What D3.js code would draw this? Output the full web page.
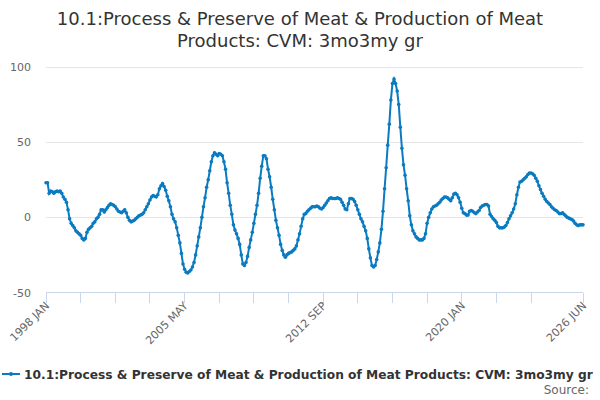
<!DOCTYPE html>
<html><head><meta charset="utf-8">
<script src="https://cdn.jsdelivr.net/npm/d3@7"></script>
<style>
html,body{margin:0;padding:0;background:#fff;}
svg{display:block;font-family:"DejaVu Sans",sans-serif;}
</style></head>
<body><svg id="chart" width="600" height="400"></svg>
<script>
const titleLines = ["10.1:Process & Preserve of Meat & Production of Meat", "Products: CVM: 3mo3my gr"];
const seriesName = "10.1:Process & Preserve of Meat & Production of Meat Products: CVM: 3mo3my gr";
const startMonth = "1998-01";
const values = [
 23, 23, 16, 17.5, 17, 16, 17, 17.5, 17, 17.5,
 16, 13.5, 12, 10, 5, -1, -4, -5.5, -7, -9,
 -10, -11, -12, -14, -15, -14, -10, -8, -7, -6,
 -4, -3, -1, 0, 2, 5, 5, 3.5, 5, 6.5,
 8, 9, 8.5, 8, 7, 5.5, 4, 3.5, 3, 4,
 5, 3, 0, -2, -3, -2.5, -2, -1, 0, 1,
 1.5, 2, 3, 5, 7, 9, 11.5, 13.5, 14.5, 14,
 13.5, 15, 19, 21, 22.5, 20.5, 18, 14, 11, 7,
 2, -1, -3, -7, -12, -17, -24, -31, -34.5, -36.5,
 -37, -36, -35, -33, -30, -25, -19, -13, -7, 0,
 7, 13, 20, 25, 31, 37, 41, 43, 42, 41,
 42.5, 42, 41, 37, 32, 23, 16, 8, 2, -5,
 -8.5, -11, -14, -18, -25, -31, -32, -30, -26, -20,
 -15, -10, -4, 2, 8, 16, 26, 34, 41, 41,
 39, 32, 27, 20, 12, 5, -2, -7, -12, -18,
 -22, -25, -26.5, -25, -24, -23.5, -23, -22, -21, -19,
 -15, -11, -6, -1, 2, 2.5, 4, 5, 6, 7,
 7, 7, 7.5, 7, 6, 5.5, 6.5, 8, 9.5, 11,
 12.5, 13, 12.5, 12.5, 12.5, 13, 12.5, 12, 10, 8,
 5.5, 5, 9, 12.5, 12.5, 12, 10.5, 8, 5, 2,
 -1, -3, -6, -9, -14, -21, -27, -32, -33, -32,
 -28, -23, -17, -8, 4, 19, 33, 48, 62, 78,
 89, 92, 89, 84, 75, 60, 46, 35, 28, 19,
 11, 1, -5, -9, -11, -13, -14, -15, -15, -15,
 -14, -11, -4, 0, 3, 5.5, 7, 7.5, 8, 9,
 10, 11.5, 12.5, 13.5, 13.5, 13, 12, 11, 13, 15.5,
 16, 15, 13, 10, 6, 3, 2.5, 1.5, 1.5, 4,
 4.5, 4, 3, 2.5, 3.5, 4.5, 6.5, 7.5, 8, 8.5,
 8.5, 7.5, 2, 0.5, -1, -2, -3.5, -6, -7, -7,
 -7, -6.5, -5.5, -3.5, -1, 1, 3, 5.5, 9, 15,
 20, 23.5, 24, 25, 26, 27, 28.5, 29.5, 29.5, 29,
 28, 26, 24, 21, 18.5, 16, 14, 12, 10.5, 9.5,
 8.5, 7, 6, 5, 4.5, 3.5, 2.5, 2.5, 3, 2,
 1, 0, -0.5, -1, -1.5, -2.5, -4, -5, -5.5, -5, -5, -5
];
const yTicks = [-50, 0, 50, 100];
const xTickMonths = [0, 22, 44, 66, 88, 110, 132, 154, 176, 198, 220, 242, 264, 286, 308, 341];
const xLabelMonths = [0, 88, 176, 264, 341];
const xLabels = ["1998 JAN", "2005 MAY", "2012 SEP", "2020 JAN", "2026 JUN"];
const sourceText = "Source:";

const color = "#0a7bc1";
const svg = d3.select("#chart");
const L = 46, R = 583, T = 67, B = 292.5;
const x = d3.scaleLinear().domain([0, values.length - 1]).range([L, R]);
const y = d3.scaleLinear().domain([-50, 100]).range([B, T]);

// title
svg.append("text").attr("x", 300).attr("y", 25).attr("text-anchor", "middle")
  .attr("font-size", 18).attr("fill", "#333")
  .selectAll("tspan").data(titleLines).join("tspan")
  .attr("x", 300).attr("dy", (d, i) => i ? 22 : 0).text(d => d);

// grid
svg.append("g").selectAll("line").data(yTicks.filter(t => t !== -50)).join("line")
  .attr("x1", L).attr("x2", R).attr("y1", d => y(d)).attr("y2", d => y(d))
  .attr("stroke", "#e6e6e6").attr("stroke-width", 1).attr("shape-rendering", "crispEdges");

// y labels
svg.append("g").selectAll("text").data(yTicks).join("text")
  .attr("x", 31).attr("y", d => y(d) + 4).attr("text-anchor", "end")
  .attr("font-size", 11).attr("fill", "#666").text(d => d);

// x axis
const xa = svg.append("g");
xa.append("line").attr("x1", L).attr("x2", R).attr("y1", B).attr("y2", B)
  .attr("stroke", "#ccd6eb").attr("stroke-width", 1);
xa.selectAll("line.tick").data(xTickMonths).join("line").attr("class", "tick")
  .attr("x1", d => x(d)).attr("x2", d => x(d)).attr("y1", B).attr("y2", B + 10)
  .attr("stroke", "#ccd6eb").attr("stroke-width", 1).attr("shape-rendering", "crispEdges");
xa.selectAll("text").data(xLabelMonths).join("text")
  .attr("transform", d => `translate(${x(d) + 4},${B + 14}) rotate(-45)`)
  .attr("text-anchor", "end").attr("font-size", 11).attr("fill", "#666")
  .text((d, i) => xLabels[i]);

// line
const line = d3.line().x((d, i) => x(i)).y(d => y(d));
svg.append("path").datum(values).attr("d", line).attr("fill", "none")
  .attr("stroke", color).attr("stroke-width", 2);
svg.append("g").selectAll("circle").data(values).join("circle")
  .attr("cx", (d, i) => x(i)).attr("cy", d => y(d)).attr("r", 1.8).attr("fill", color);

// legend
const lg = svg.append("g");
lg.append("line").attr("x1", 2).attr("x2", 20).attr("y1", 374).attr("y2", 374)
  .attr("stroke", color).attr("stroke-width", 2);
lg.append("circle").attr("cx", 11).attr("cy", 374).attr("r", 2).attr("fill", color);
const lt = lg.append("text").attr("x", 24).attr("y", 378.5).attr("font-size", 13).attr("font-weight", "bold")
  .attr("fill", "#333").text(seriesName);
const w = lt.node().getComputedTextLength();
const target = 593 - 24;
if (w > target) lt.attr("font-size", 13 * target / w);

svg.append("text").attr("x", 589).attr("y", 394).attr("text-anchor", "end")
  .attr("font-size", 12).attr("fill", "#666").text(sourceText);
</script></body></html>
